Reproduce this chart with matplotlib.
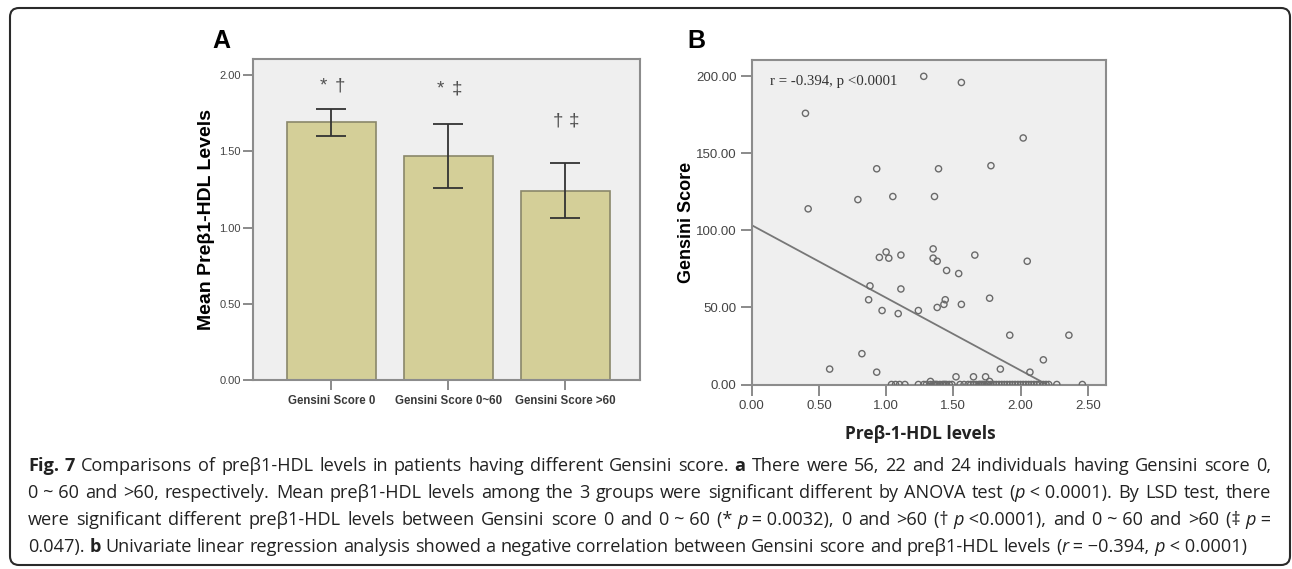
import re
import matplotlib
matplotlib.use("Agg")
import matplotlib.pyplot as plt
import numpy as np
from matplotlib.patches import FancyBboxPatch
from matplotlib.transforms import IdentityTransform

W, H = 1292, 569

# ---- panel A: mean preb1-HDL by Gensini group ----
GROUPS = ["Gensini Score 0", "Gensini Score 0~60", "Gensini Score >60"]
MEAN_PREB1 = [1.69, 1.47, 1.24]
CI_LOW = [1.60, 1.26, 1.06]
CI_HIGH = [1.78, 1.68, 1.42]
SIG_LEFT = ["*", "*", "†"]
SIG_RIGHT = ["†", "‡", "‡"]
SIG_Y = [1.93, 1.91, 1.70]

# ---- panel B: Gensini score vs preb1-HDL ----
PREB1_NZ = [1.28, 1.56, 0.40, 2.02, 0.93, 1.39, 1.78, 0.79, 1.05, 1.36, 0.42,
            0.95, 1.00, 1.02, 1.11, 1.35, 1.35, 1.38, 1.66, 2.05, 1.45, 1.54,
            0.88, 1.11, 0.87, 1.44, 1.43, 1.77, 0.97, 1.24, 1.38, 1.56, 1.09,
            1.92, 2.36, 0.82, 2.17, 0.58, 0.93, 1.85, 2.07, 1.52, 1.65, 1.74,
            1.33, 1.77]
GENSINI_NZ = [200, 196, 176, 160, 140, 140, 142, 120, 122, 122, 114,
              82.5, 86, 82, 84, 88, 82, 80, 84, 80, 74, 72,
              64, 62, 55, 55, 52, 56, 48, 48, 50, 52, 46,
              32, 32, 20, 16, 10, 8, 10, 8, 5, 5, 5,
              2, 2]
PREB1_ZERO = [1.04, 1.07, 1.10, 1.14, 1.24, 1.28, 1.30, 1.33, 1.35, 1.36,
              1.37, 1.38, 1.40, 1.42, 1.43, 1.44, 1.45, 1.47, 1.49, 1.55,
              1.58, 1.61, 1.63, 1.65, 1.67, 1.69, 1.70, 1.71, 1.72, 1.73,
              1.75, 1.76, 1.78, 1.80, 1.82, 1.84, 1.86, 1.88, 1.90, 1.92,
              1.94, 1.96, 1.98, 2.00, 2.02, 2.04, 2.06, 2.08, 2.10, 2.12,
              2.14, 2.17, 2.19, 2.21, 2.27, 2.46]
FIT_INTERCEPT = 103.4
FIT_SLOPE = -47.1
STAT_TEXT = "r = -0.394, p <0.0001"

CAPTION = [
    "{b:Fig.} {b:7} Comparisons of preβ1-HDL levels in patients having different Gensini score. "
    "{b:a} There were 56, 22 and 24 individuals having Gensini score 0,",
    "0\u00a0~\u00a060 and >60, respectively. Mean preβ1-HDL levels among the 3 groups were significant "
    "different by ANOVA test ({i:p}\u00a0<\u00a00.0001). By LSD test, there",
    "were significant different preβ1-HDL levels between Gensini score 0 and 0\u00a0~\u00a060 "
    "(*\u00a0{i:p}\u00a0=\u00a00.0032), 0 and >60 (†\u00a0{i:p}\u00a0<0.0001), and 0\u00a0~\u00a060 and >60 (‡\u00a0{i:p}\u00a0=",
    "0.047). {b:b} Univariate linear regression analysis showed a negative correlation between "
    "Gensini score and preβ1-HDL levels ({i:r}\u00a0=\u00a0−0.394, {i:p}\u00a0<\u00a00.0001)",
]

SANS = ["Liberation Sans", "DejaVu Sans"]
CAP_FONT = ["Open Sans", "DejaVu Sans"]
AX_BG = "#efefef"
SPINE = "#8c8c8c"
TICKC = "#444444"

fig = plt.figure(figsize=(W / 100, H / 100), dpi=100)
fig.patch.set_facecolor("white")


def px_axes(left, top, right, bottom):
    return fig.add_axes([left / W, 1 - bottom / H, (right - left) / W, (bottom - top) / H])


def style_axes(ax):
    ax.set_facecolor(AX_BG)
    for s in ax.spines.values():
        s.set_color(SPINE)
        s.set_linewidth(1.5)


# ---------------- panel A ----------------
axA = px_axes(253, 59, 640, 380)
style_axes(axA)
x = np.arange(len(GROUPS))
mean = np.array(MEAN_PREB1)
err = [mean - np.array(CI_LOW), np.array(CI_HIGH) - mean]
axA.bar(x, mean, width=0.76, color="#d4cf98", edgecolor="#8a876a", linewidth=1.2, zorder=2)
axA.errorbar(x, mean, yerr=err, fmt="none", ecolor="#333333", elinewidth=1.3,
             capsize=10.5, capthick=1.3, zorder=3)
for xi, l, r, y in zip(x, SIG_LEFT, SIG_RIGHT, SIG_Y):
    axA.text(xi - 0.065, y, l, ha="center", va="center", fontsize=13.5,
             color="#505050", family=SANS)
    axA.text(xi + 0.075, y, r, ha="center", va="center", fontsize=13.5,
             color="#505050", family=SANS)
axA.set_xlim(-0.67, 2.64)
axA.set_ylim(0, 2.105)
axA.set_yticks([0, 0.5, 1.0, 1.5, 2.0])
axA.set_yticklabels([f"{v:.2f}" for v in [0, 0.5, 1.0, 1.5, 2.0]], family=SANS)
axA.set_xticks(x)
axA.set_xticklabels(GROUPS, family=SANS, fontsize=8.3, fontweight="bold", color="#3a3a3a")
axA.tick_params(axis="y", length=7, width=1.2, color="#777777", labelsize=8,
                labelcolor=TICKC, pad=2)
axA.tick_params(axis="x", length=7, width=1.2, color="#777777", pad=4)
axA.set_ylabel("Mean Preβ1-HDL Levels", family=SANS, fontsize=14, fontweight="bold")
axA.yaxis.set_label_coords(-0.098, 0.5)
fig.text(212 / W, 1 - 48 / H, "A", family=SANS, fontsize=18, fontweight="bold",
         ha="left", va="baseline")

# ---------------- panel B ----------------
axB = px_axes(751.7, 60, 1106, 384.5)
style_axes(axB)
axB.scatter(PREB1_NZ, GENSINI_NZ, s=20, facecolors="none", edgecolors="#6a6a6a",
            linewidths=1.0, zorder=3)
axB.scatter(PREB1_ZERO, np.zeros(len(PREB1_ZERO)), s=20, facecolors="none",
            edgecolors="#6a6a6a", linewidths=1.0, zorder=3)
xl = (0, 2.636)
xf = np.array(xl)
axB.plot(xf, FIT_INTERCEPT + FIT_SLOPE * xf, color="#777777", linewidth=1.3, zorder=2)
axB.set_xlim(*xl)
axB.set_ylim(0, 210.6)
xt = [0, 0.5, 1.0, 1.5, 2.0, 2.5]
yt = [0, 50, 100, 150, 200]
axB.set_xticks(xt)
axB.set_xticklabels([f"{v:.2f}" for v in xt], family=SANS)
axB.set_yticks(yt)
axB.set_yticklabels([f"{v:.2f}" for v in yt], family=SANS)
axB.tick_params(length=8, width=1.2, color="#777777", labelsize=9.5,
                labelcolor=TICKC, pad=3)
axB.text(0.052, 0.935, STAT_TEXT, transform=axB.transAxes, family=["Liberation Serif"],
         fontsize=10.7, color="#333333", ha="left", va="center")
axB.set_ylabel("Gensini Score", family=SANS, fontsize=13, fontweight="bold")
axB.yaxis.set_label_coords(-0.16, 0.5)
axB.set_xlabel("Preβ-1-HDL levels", family=CAP_FONT, fontsize=12.5, fontweight="bold",
               color="#222222")
axB.xaxis.set_label_coords(0.475, -0.125)
fig.text(687 / W, 1 - 48 / H, "B", family=SANS, fontsize=18, fontweight="bold",
         ha="left", va="baseline")

# ---------------- frame ----------------
frame = FancyBboxPatch((10, 4), 1280, 557, boxstyle="round,pad=0,rounding_size=9",
                       transform=IdentityTransform(), fill=False, edgecolor="#2a2a2a",
                       linewidth=1.5)
fig.add_artist(frame)

# ---------------- caption (justified) ----------------
renderer = fig.canvas.get_renderer()
CAP_SIZE = 13.1


def parse_words(line):
    words = []
    for tok in line.split(" "):
        segs = []
        pos = 0
        for m in re.finditer(r"\{([bi]):([^}]*)\}", tok):
            if m.start() > pos:
                segs.append((tok[pos:m.start()], "n"))
            segs.append((m.group(2), m.group(1)))
            pos = m.end()
        if pos < len(tok):
            segs.append((tok[pos:], "n"))
        words.append(segs)
    return words


def draw_caption_line(line, y, x0, x1, justify):
    words = parse_words(line)
    placed = []
    total = 0
    for segs in words:
        arts = []
        wsum = 0
        for txt, st in segs:
            t = fig.text(0, y, txt, transform=IdentityTransform(), family=CAP_FONT,
                         fontsize=CAP_SIZE, color="#222222", va="baseline", ha="left",
                         fontweight="bold" if st == "b" else "normal",
                         fontstyle="italic" if st == "i" else "normal")
            w = t.get_window_extent(renderer).width
            arts.append((t, w))
            wsum += w
        placed.append(arts)
        total += wsum
    space = CAP_SIZE * 100 / 72 * 0.26
    if justify and len(placed) > 1:
        gap = max((x1 - x0 - total) / (len(placed) - 1), 2)
    else:
        gap = space
    cx = x0
    for arts in placed:
        for t, w in arts:
            t.set_x(cx)
            cx += w
        cx += gap


baselines = [471, 498, 525, 552]
for i, (line, b) in enumerate(zip(CAPTION, baselines)):
    draw_caption_line(line, H - b, 28, 1271, justify=(i < len(CAPTION) - 1))

fig.savefig("out.png", dpi=100, facecolor="white")
